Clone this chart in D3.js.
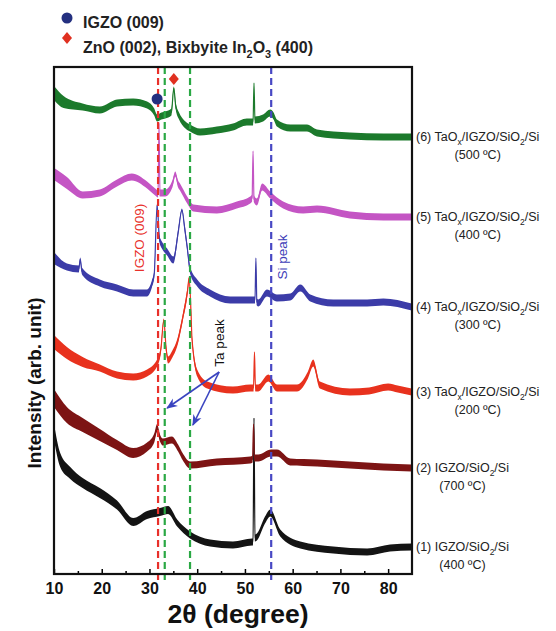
<!DOCTYPE html>
<html>
<head>
<meta charset="UTF-8">
<title>XRD patterns</title>
<script src="https://cdn.jsdelivr.net/npm/d3@7"></script>
<style>
  body { margin: 0; background: #fff; }
  text { font-family: "Liberation Sans", Arial, sans-serif; }
</style>
</head>
<body>
<svg id="chart" width="556" height="631"></svg>
<script>
// ---- data: [2theta, intensity (arb.), optional noise band] ----
var igzo400 = [[10,142,16],[11.3,114,14],[13.4,101,12],[16,91,10],[19.6,81,10],[23.2,69,9],[26.6,52,8],[29.5,59,8],[32.2,62,8],[33.9,64,8],[35.8,51],[38.5,39],[42.7,31],[47.5,29],[51.5,32],[51.7,32],[51.9,156,1],[52.1,36],[52.5,37],[54.2,54],[55.3,61],[57.4,41],[61.6,29],[68.5,24],[75.6,22],[80.4,26],[84.9,27]];
var igzo700 = [[10,176,18],[12.7,159,16],[16,149,14],[19.6,139,12],[23.2,129,10],[26.6,121,10],[29.5,127,9],[31.0,136,9],[31.6,146,8],[32.2,136],[32.8,132],[34.7,134],[36,126],[37,117],[38.5,109],[44.1,112],[51.1,114],[51.6,115],[51.8,150,1],[52.0,116],[52.8,116],[55.5,121],[56.7,121],[59.5,112],[65.1,111],[72,109],[79,107],[84.9,106]];
var tao200 = [[10,232,14],[12.7,221,12],[16,212,10],[19.6,206],[23.2,199],[26.6,197],[29.5,201],[31.6,211],[32.4,225],[33.0,254,3],[33.5,225],[33.9,214],[34.8,220],[35.8,231],[37,257],[38.0,284],[38.3,296,3],[38.7,262],[38.9,236],[40,201],[42.1,189],[47.5,184],[51.1,186],[51.8,186],[52.0,222,1],[52.2,186],[52.8,186],[54.9,196],[56.7,186],[60.9,186],[63.2,199],[64.3,211],[65.7,189],[72,182],[76,183],[80,187],[82,185],[84.9,182]];
var tao300 = [[10,316,12],[12.7,307],[15.2,305],[15.5,315,3],[15.8,304],[16,302],[19.6,291],[23.2,286],[26.6,281],[29.5,281],[30.5,290],[31.0,300],[31.6,369,3],[32.1,335],[32.6,329],[33.7,322],[35,314],[36,341],[36.8,364,3],[37.4,345],[37.9,327],[38.5,304],[40,291],[42.7,281],[46.9,274],[51.1,274],[52.1,274],[52.3,316,1],[52.5,272],[52.8,271],[54.6,281],[56.7,276],[59.5,277],[61.6,286],[63.7,276],[68.5,271],[75.6,271],[79,272],[84.9,267]];
var tao400 = [[10,400,12],[12.7,391,12],[16,379],[19.6,381],[23.2,391],[26.3,397],[29.5,389],[31.2,382],[31.8,380],[32.0,451,1],[32.2,381],[33.3,381],[34.8,390],[35.4,400,5],[36.0,390],[36.4,387],[37.9,374],[39.2,366],[44.1,364],[48.3,369],[51.1,374],[51.5,376],[51.7,423,1],[51.9,375],[52.5,372],[53.6,387],[55.3,379],[58,369],[62.2,364],[65.1,365],[72,359],[79,357],[84.9,357]];
var tao500 = [[10,481,14],[12,472,12],[16,467],[19.6,464],[23.2,471],[26.6,472],[29.5,469],[31.0,462],[31.6,456],[32.5,458],[33.3,459],[34.6,462],[35.1,486,3],[35.5,468],[36.2,458],[37.3,450],[38.5,446],[40.6,442],[44.1,444],[47.5,447],[50.4,452],[51.7,452],[51.9,491,1],[52.1,454],[53.8,456],[55.3,461],[56.0,458],[56.7,451],[59.5,446],[63,446],[65.1,441],[72,438],[79,437],[84.9,437]];

var seriesData = [igzo400, igzo700, tao200, tao300, tao400, tao500];
var seriesNames = ["(1) IGZO/SiO_2/Si", "(2) IGZO/SiO_2/Si", "(3) TaO_x/IGZO/SiO_2/Si",
                   "(4) TaO_x/IGZO/SiO_2/Si", "(5) TaO_x/IGZO/SiO_2/Si", "(6) TaO_x/IGZO/SiO_2/Si"];
var seriesTemps = ["(400 ºC)", "(700 ºC)", "(200 ºC)", "(300 ºC)", "(400 ºC)", "(500 ºC)"];

var refLines = [31.8, 33.2, 38.5, 55.5];          // dashed guide lines (2theta)
var majorTicks = [10, 20, 30, 40, 50, 60, 70, 80];
var minorTicks = [15, 25, 35, 45, 55, 65, 75];

var legendItems = ["IGZO (009)", "ZnO (002), Bixbyite In_2O_3 (400)"];
var igzoMark = [31.6, 475];                        // blue dot on curve (6)
var znoMark = [35.1, 495];                         // red diamond on curve (6)

var notes = [{text: "IGZO (009)", at: [28.2, 336]},
             {text: "Si peak", at: [58.0, 317]},
             {text: "Ta peak", at: [44.8, 231]}];
var arrowFrom = [44.6, 202];
var arrowTo = [[33.7, 166], [39.1, 149]];

// ---- style ----
var seriesColors = ["#141414", "#7d1414", "#e8321e", "#3c3ca8", "#c455c4", "#1c7a2c"];
var refColors = ["#e8302a", "#2aa844", "#2aa844", "#4848c4"];
var noteColors = ["#e8302a", "#4040b8", "#111"];
var baseBand = 7;

var margin = {left: 54, top: 67, right: 144, bottom: 57};
var W = 556 - margin.left - margin.right;
var H = 631 - margin.top - margin.bottom;

var svg = d3.select("#chart");
var g = svg.append("g").attr("transform", "translate(" + margin.left + "," + margin.top + ")");

var x = d3.scaleLinear().domain([10, 85]).range([0, W]);
var y = d3.scaleLinear().domain([0, H]).range([H, 0]);

// text with _c subscripts
function richText(sel, str, size) {
  var parts = str.split(/_(.)/);
  parts.forEach(function (p, i) {
    if (!p) return;
    if (i % 2 === 1) {
      sel.append("tspan").attr("font-size", size * 0.68).attr("dy", size * 0.3).text(p);
    } else {
      sel.append("tspan").attr("dy", i ? -size * 0.3 : 0).text(p);
    }
  });
}

// curves
var band = function (d) { return d[2] || baseBand; };
var area = d3.area()
  .x(function (d) { return x(d[0]); })
  .y0(function (d) { return y(d[1]) + band(d) / 2; })
  .y1(function (d) { return y(d[1]) - band(d) / 2; })
  .curve(d3.curveMonotoneX);
var line = d3.line()
  .x(function (d) { return x(d[0]); })
  .y(function (d) { return y(d[1]); })
  .curve(d3.curveMonotoneX);

seriesData.forEach(function (s, i) {
  g.append("path").attr("d", area(s)).attr("fill", seriesColors[i]);
  g.append("path").attr("d", line(s)).attr("fill", "none")
    .attr("stroke", seriesColors[i]).attr("stroke-width", 1.2);
});

// dashed guide lines
g.selectAll(".ref").data(refLines).enter().append("line")
  .attr("x1", function (d) { return x(d); }).attr("x2", function (d) { return x(d); })
  .attr("y1", 0).attr("y2", H + 7)
  .attr("stroke", function (d, i) { return refColors[i]; })
  .attr("stroke-width", 2.2).attr("stroke-dasharray", "7,4");

// axes
g.append("g").attr("transform", "translate(0," + H + ")")
  .call(d3.axisBottom(x).tickValues(minorTicks).tickSize(-3).tickFormat(""))
  .call(function (a) { a.select(".domain").remove(); a.selectAll("line").attr("stroke-width", 1.5); });
g.append("g").attr("transform", "translate(0," + H + ")")
  .call(d3.axisBottom(x).tickValues(majorTicks).tickSize(-5).tickPadding(9))
  .call(function (a) {
    a.select(".domain").remove();
    a.selectAll("line").attr("stroke-width", 1.5);
    a.selectAll("text").attr("font-size", 16).attr("font-weight", "bold")
      .attr("fill", "#111").attr("font-family", "Liberation Sans, Arial, sans-serif");
  });

g.append("rect").attr("width", W).attr("height", H)
  .attr("fill", "none").attr("stroke", "#111").attr("stroke-width", 2.2);

// axis titles
svg.append("text").attr("x", 238).attr("y", 623)
  .attr("text-anchor", "middle").attr("font-size", 26.5).attr("font-weight", "bold")
  .attr("fill", "#111").text("2θ (degree)");
svg.append("text").attr("transform", "translate(41,383) rotate(-90)")
  .attr("text-anchor", "middle").attr("font-size", 19).attr("font-weight", "bold")
  .attr("fill", "#111").text("Intensity (arb. unit)");

// right labels
seriesData.forEach(function (s, i) {
  var yy = margin.top + y(s[s.length - 1][1]) + 4;
  var t = svg.append("text").attr("x", margin.left + W + 4).attr("y", yy)
    .attr("font-size", 12.5).attr("fill", "#222");
  richText(t, seriesNames[i], 12.5);
  var w = t.node().getComputedTextLength();
  svg.append("text").attr("x", margin.left + W + 4 + w / 2).attr("y", yy + 18)
    .attr("text-anchor", "middle").attr("font-size", 12.5).attr("fill", "#222")
    .text(seriesTemps[i]);
});

// peak annotations
notes.forEach(function (n, i) {
  g.append("text")
    .attr("transform", "translate(" + x(n.at[0]) + "," + y(n.at[1]) + ") rotate(-90)")
    .attr("text-anchor", "middle").attr("dominant-baseline", "middle")
    .attr("font-size", 13.5).attr("fill", noteColors[i]).text(n.text);
});

svg.append("defs").append("marker").attr("id", "arr")
  .attr("viewBox", "0 0 10 10").attr("refX", 9).attr("refY", 5)
  .attr("markerWidth", 7).attr("markerHeight", 7).attr("orient", "auto")
  .append("path").attr("d", "M0,1 L10,5 L0,9 L3,5 Z").attr("fill", "#3a44c0");
arrowTo.forEach(function (p) {
  g.append("line")
    .attr("x1", x(arrowFrom[0])).attr("y1", y(arrowFrom[1]))
    .attr("x2", x(p[0])).attr("y2", y(p[1]))
    .attr("stroke", "#3a44c0").attr("stroke-width", 1.6).attr("marker-end", "url(#arr)");
});

// markers on curve (6)
function diamond(cx, cy, hw, hh) {
  return "M" + cx + "," + (cy - hh) + "L" + (cx + hw) + "," + cy + "L" + cx + "," + (cy + hh) + "L" + (cx - hw) + "," + cy + "Z";
}
g.append("circle").attr("cx", x(igzoMark[0])).attr("cy", y(igzoMark[1])).attr("r", 5.5).attr("fill", "#243080");
g.append("path").attr("d", diamond(x(znoMark[0]), y(znoMark[1]), 5, 6)).attr("fill", "#e03020");

// legend
svg.append("circle").attr("cx", 67).attr("cy", 18).attr("r", 5.5).attr("fill", "#243080");
svg.append("path").attr("d", diamond(67, 38, 5, 6)).attr("fill", "#e03020");
legendItems.forEach(function (s, i) {
  var t = svg.append("text").attr("x", 83).attr("y", 28 + i * 25)
    .attr("font-size", 16).attr("font-weight", "bold").attr("fill", "#222");
  richText(t, s, 16);
});
</script>
</body>
</html>
